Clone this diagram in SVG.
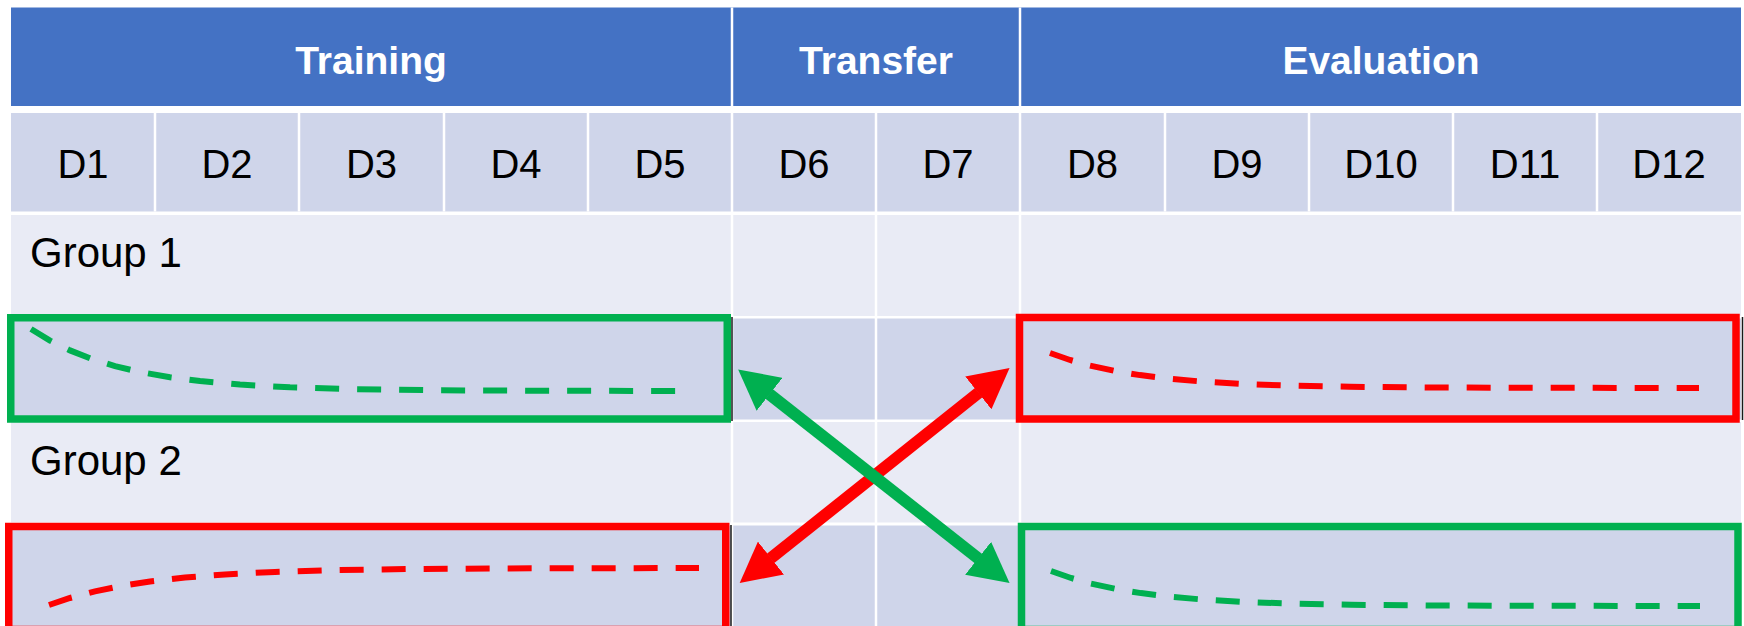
<svg xmlns="http://www.w3.org/2000/svg" width="1744" height="626" viewBox="0 0 1744 626">
  <style>
    .hdr { fill: #4472C4; }
    .band1 { fill: #CFD5EA; }
    .band2 { fill: #E9EBF5; }
    .grid { stroke: #FFFFFF; stroke-width: 2.5; }
    .htxt { font-family: "Liberation Sans", Arial, sans-serif; font-weight: bold; font-size: 39px; fill: #FFFFFF; text-anchor: middle; }
    .dtxt { font-family: "Liberation Sans", Arial, sans-serif; font-size: 40px; fill: #000000; text-anchor: middle; }
    .gtxt { font-family: "Liberation Sans", Arial, sans-serif; font-size: 42px; fill: #000000; }
    .box { fill: none; stroke-width: 7.5; }
    .curve { fill: none; stroke-width: 6; stroke-dasharray: 24 18; }
    .edge { stroke: #1A1A1A; stroke-width: 1.5; }
    .green { stroke: #00B050; }
    .red { stroke: #FF0000; }
    .shaft { fill: none; stroke-width: 12; }
  </style>
  <defs>
    <marker id="headGreen" markerUnits="userSpaceOnUse" viewBox="0 0 40 42" markerWidth="40" markerHeight="42" refX="0.5" refY="21" orient="auto-start-reverse">
      <path d="M0,0 L40,21 L0,42 Z" fill="#00B050"/>
    </marker>
    <marker id="headRed" markerUnits="userSpaceOnUse" viewBox="0 0 40 42" markerWidth="40" markerHeight="42" refX="0.5" refY="21" orient="auto-start-reverse">
      <path d="M0,0 L40,21 L0,42 Z" fill="#FF0000"/>
    </marker>
  </defs>

  <rect width="1744" height="626" fill="#FFFFFF"/>

  <!-- table body -->
  <g id="table">
    <rect class="hdr" x="11" y="7.5" width="1730" height="98.5"/>
    <rect class="band1" x="11" y="113" width="1730" height="98.5"/>
    <rect class="band2" x="11" y="215" width="1730" height="101"/>
    <rect class="band1" x="11" y="318.5" width="1730" height="101"/>
    <rect class="band2" x="11" y="422" width="1730" height="100.5"/>
    <rect class="band1" x="11" y="525.5" width="1730" height="101"/>
    <!-- header separators -->
    <line class="grid" x1="732" y1="7.5" x2="732" y2="106"/>
    <line class="grid" x1="1020" y1="7.5" x2="1020" y2="106"/>
    <!-- day separators -->
    <g class="grid">
      <line x1="155" y1="113" x2="155" y2="211.5"/>
      <line x1="299" y1="113" x2="299" y2="211.5"/>
      <line x1="444" y1="113" x2="444" y2="211.5"/>
      <line x1="588" y1="113" x2="588" y2="211.5"/>
      <line x1="732" y1="113" x2="732" y2="626"/>
      <line x1="876" y1="113" x2="876" y2="626"/>
      <line x1="1020" y1="113" x2="1020" y2="626"/>
      <line x1="1165" y1="113" x2="1165" y2="211.5"/>
      <line x1="1309" y1="113" x2="1309" y2="211.5"/>
      <line x1="1453" y1="113" x2="1453" y2="211.5"/>
      <line x1="1597" y1="113" x2="1597" y2="211.5"/>
    </g>
    <!-- thin cell borders -->
    <line class="edge" x1="732" y1="317" x2="732" y2="421"/>
    <line class="edge" x1="731" y1="525" x2="731" y2="626"/>
    <line class="edge" x1="1742.5" y1="317" x2="1742.5" y2="420"/>
  </g>

  <!-- phase headers -->
  <g id="phase-training"><text class="htxt" x="371" y="74">Training</text></g>
  <g id="phase-transfer"><text class="htxt" x="876" y="74">Transfer</text></g>
  <g id="phase-evaluation"><text class="htxt" x="1381" y="74">Evaluation</text></g>

  <!-- day labels -->
  <g id="days">
    <text class="dtxt" x="83" y="178">D1</text>
    <text class="dtxt" x="227" y="178">D2</text>
    <text class="dtxt" x="371.5" y="178">D3</text>
    <text class="dtxt" x="516" y="178">D4</text>
    <text class="dtxt" x="660" y="178">D5</text>
    <text class="dtxt" x="804" y="178">D6</text>
    <text class="dtxt" x="948" y="178">D7</text>
    <text class="dtxt" x="1092.5" y="178">D8</text>
    <text class="dtxt" x="1237" y="178">D9</text>
    <text class="dtxt" x="1381" y="178">D10</text>
    <text class="dtxt" x="1525" y="178">D11</text>
    <text class="dtxt" x="1669" y="178">D12</text>
  </g>

  <g id="group1-label"><text class="gtxt" x="30" y="267">Group 1</text></g>
  <g id="group2-label"><text class="gtxt" x="30" y="475">Group 2</text></g>

  <!-- Group 1, training: decaying curve -->
  <g id="g1-training">
    <rect class="box green" x="10.75" y="317.75" width="716.5" height="101.25"/>
    <path class="curve green" d="M31,329 L50,340.6 L70,350.4 L90,358.3 L115,366.1 L140,372 L170,377.3 L200,381.1 L240,384.6 L290,387.3 L350,389.1 L430,390.2 L530,390.7 L677,391"/>
  </g>

  <!-- Group 1, evaluation -->
  <g id="g1-evaluation">
    <rect class="box red" x="1019.5" y="317.5" width="716.5" height="101.5"/>
    <path class="curve red" d="M1050,353 L1070,360 L1090,365.6 L1115,371 L1140,375.1 L1170,378.8 L1200,381.4 L1240,383.8 L1290,385.6 L1350,386.75 L1430,387.5 L1530,387.8 L1699,388"/>
  </g>

  <!-- Group 2, training: rising curve -->
  <g id="g2-training">
    <rect class="box red" x="8.75" y="526.5" width="717" height="103"/>
    <path class="curve red" d="M49,605 L70,598 L95,591.4 L120,586.2 L150,581.5 L185,577.5 L225,574.4 L275,571.9 L335,570.1 L410,569 L500,568.4 L699,568"/>
  </g>

  <!-- Group 2, evaluation -->
  <g id="g2-evaluation">
    <rect class="box green" x="1021.5" y="526.5" width="716.5" height="103"/>
    <path class="curve green" d="M1051,571 L1071,578 L1091,583.6 L1116,589 L1141,593.1 L1171,596.8 L1201,599.4 L1241,601.8 L1291,603.6 L1351,604.75 L1431,605.5 L1531,605.8 L1700,606"/>
  </g>

  <!-- cross connectors -->
  <g id="connectors">
    <line class="shaft red" x1="770.6" y1="558.4" x2="978.7" y2="392.6" marker-start="url(#headRed)" marker-end="url(#headRed)"/>
    <line class="shaft green" x1="769.2" y1="394" x2="978.5" y2="558.6" marker-start="url(#headGreen)" marker-end="url(#headGreen)"/>
  </g>
</svg>
